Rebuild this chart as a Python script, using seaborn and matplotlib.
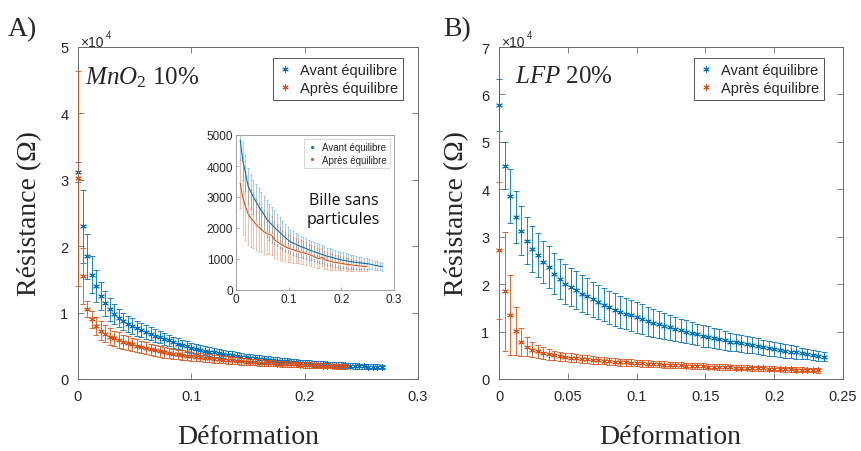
import matplotlib
matplotlib.use("Agg")
import matplotlib.pyplot as plt
from matplotlib.lines import Line2D
import seaborn as sns

# ---------------------------------------------------------------- data
# strain grid shared by the main panels
strain = [0.000, 0.004, 0.008, 0.012, 0.016, 0.020, 0.024, 0.028, 0.032, 0.036,
          0.040, 0.044, 0.048, 0.052, 0.056, 0.060, 0.064, 0.068, 0.072, 0.076,
          0.080, 0.084, 0.088, 0.092, 0.096, 0.100, 0.104, 0.108, 0.112, 0.116,
          0.120, 0.124, 0.128, 0.132, 0.136, 0.140, 0.144, 0.148, 0.152, 0.156,
          0.160, 0.164, 0.168, 0.172, 0.176, 0.180, 0.184, 0.188, 0.192, 0.196,
          0.200, 0.204, 0.208, 0.212, 0.216, 0.220, 0.224, 0.228, 0.232, 0.236,
          0.240, 0.244, 0.248, 0.252, 0.256, 0.260, 0.264, 0.268]

# A) MnO2 10 %  (resistance in 1e4 ohm)
mno2_avant = [3.12, 2.30, 1.85, 1.57, 1.40, 1.25, 1.14, 1.05, 0.98, 0.92,
              0.87, 0.83, 0.80, 0.765, 0.74, 0.71, 0.68, 0.655, 0.63, 0.60,
              0.58, 0.555, 0.53, 0.51, 0.49, 0.47, 0.455, 0.44, 0.425, 0.41,
              0.40, 0.39, 0.375, 0.365, 0.355, 0.345, 0.335, 0.325, 0.315, 0.31,
              0.30, 0.295, 0.29, 0.283, 0.276, 0.27, 0.264, 0.258, 0.252, 0.246,
              0.24, 0.236, 0.232, 0.228, 0.224, 0.22, 0.216, 0.212, 0.208, 0.204,
              0.20, 0.197, 0.194, 0.19, 0.188, 0.185, 0.183, 0.18]
mno2_avant_err = [0.15, 0.55, 0.34, 0.28, 0.24, 0.21, 0.19, 0.17, 0.15, 0.14,
                  0.13, 0.125, 0.12, 0.115, 0.11, 0.105, 0.10, 0.097, 0.094, 0.091,
                  0.088, 0.085, 0.082, 0.08, 0.078, 0.076, 0.074, 0.072, 0.07, 0.068,
                  0.066, 0.064, 0.063, 0.062, 0.061, 0.06, 0.059, 0.058, 0.057, 0.056,
                  0.055, 0.054, 0.053, 0.052, 0.051, 0.05, 0.049, 0.048, 0.047, 0.046,
                  0.045, 0.044, 0.044, 0.043, 0.043, 0.042, 0.042, 0.041, 0.041, 0.04,
                  0.04, 0.039, 0.039, 0.038, 0.038, 0.037, 0.037, 0.036]
mno2_apres = [3.02, 1.55, 1.05, 0.90, 0.80, 0.73, 0.68, 0.64, 0.61, 0.585,
              0.56, 0.54, 0.52, 0.50, 0.48, 0.46, 0.445, 0.43, 0.415, 0.40,
              0.39, 0.38, 0.37, 0.36, 0.35, 0.34, 0.333, 0.326, 0.319, 0.312,
              0.305, 0.298, 0.291, 0.285, 0.279, 0.273, 0.268, 0.263, 0.258, 0.253,
              0.248, 0.244, 0.24, 0.236, 0.232, 0.228, 0.225, 0.222, 0.219, 0.216,
              0.213, 0.21, 0.207, 0.204, 0.201, 0.198, 0.196, 0.194, 0.192, 0.19]
mno2_apres_err = [1.62, 0.42, 0.12, 0.13, 0.14, 0.14, 0.13, 0.13, 0.12, 0.12,
                  0.11, 0.105, 0.10, 0.097, 0.094, 0.09, 0.087, 0.084, 0.081, 0.078,
                  0.076, 0.074, 0.072, 0.07, 0.068, 0.066, 0.064, 0.062, 0.06, 0.058,
                  0.057, 0.056, 0.055, 0.054, 0.053, 0.052, 0.051, 0.05, 0.049, 0.048,
                  0.047, 0.046, 0.045, 0.044, 0.043, 0.042, 0.042, 0.041, 0.041, 0.04,
                  0.04, 0.039, 0.039, 0.038, 0.038, 0.037, 0.037, 0.036, 0.036, 0.035]

# B) LFP 20 %  (resistance in 1e4 ohm)
lfp_avant = [5.77, 4.50, 3.85, 3.41, 3.13, 2.92, 2.74, 2.61, 2.47, 2.36,
             2.22, 2.11, 2.01, 1.94, 1.87, 1.80, 1.74, 1.68, 1.63, 1.57,
             1.51, 1.46, 1.42, 1.38, 1.34, 1.30, 1.26, 1.22, 1.18, 1.15,
             1.12, 1.09, 1.06, 1.03, 1.00, 0.97, 0.94, 0.91, 0.89, 0.86,
             0.84, 0.815, 0.79, 0.77, 0.75, 0.73, 0.71, 0.69, 0.67, 0.65,
             0.63, 0.61, 0.59, 0.575, 0.56, 0.54, 0.525, 0.51, 0.49, 0.47]
lfp_avant_err = [0.55, 0.50, 0.57, 0.55, 0.52, 0.50, 0.48, 0.46, 0.45, 0.44,
                 0.43, 0.42, 0.42, 0.41, 0.40, 0.39, 0.38, 0.37, 0.36, 0.355,
                 0.35, 0.345, 0.34, 0.335, 0.33, 0.325, 0.315, 0.305, 0.295, 0.285,
                 0.275, 0.265, 0.255, 0.245, 0.24, 0.235, 0.23, 0.225, 0.22, 0.215,
                 0.21, 0.2, 0.19, 0.185, 0.18, 0.175, 0.17, 0.165, 0.16, 0.155,
                 0.15, 0.145, 0.14, 0.135, 0.13, 0.12, 0.11, 0.105, 0.1, 0.09]
lfp_apres = [2.71, 1.85, 1.35, 1.01, 0.78, 0.68, 0.62, 0.58, 0.545, 0.52,
             0.50, 0.48, 0.465, 0.45, 0.44, 0.425, 0.415, 0.405, 0.395, 0.385,
             0.375, 0.365, 0.357, 0.35, 0.343, 0.336, 0.33, 0.323, 0.317, 0.311,
             0.305, 0.299, 0.293, 0.288, 0.283, 0.278, 0.273, 0.268, 0.263, 0.258,
             0.254, 0.25, 0.246, 0.242, 0.238, 0.234, 0.23, 0.226, 0.222, 0.218,
             0.214, 0.21, 0.206, 0.202, 0.198, 0.194, 0.19, 0.186, 0.182]
lfp_apres_err = [1.45, 1.25, 0.85, 0.5, 0.3, 0.2, 0.16, 0.14, 0.12, 0.11,
                 0.1, 0.095, 0.09, 0.088, 0.086, 0.084, 0.082, 0.08, 0.078, 0.076,
                 0.075, 0.074, 0.073, 0.072, 0.071, 0.07, 0.069, 0.068, 0.067, 0.066,
                 0.065, 0.064, 0.063, 0.062, 0.061, 0.06, 0.06, 0.059, 0.058, 0.057,
                 0.056, 0.056, 0.055, 0.055, 0.054, 0.054, 0.053, 0.053, 0.052, 0.052,
                 0.051, 0.051, 0.05, 0.05, 0.05, 0.049, 0.049, 0.048, 0.048]

# inset: bead without particles (resistance in ohm)
strain_bille = [0.008, 0.013, 0.018, 0.023, 0.028, 0.033, 0.038, 0.043, 0.048, 0.053,
                0.058, 0.063, 0.068, 0.073, 0.078, 0.083, 0.088, 0.093, 0.098, 0.103,
                0.108, 0.113, 0.118, 0.123, 0.128, 0.133, 0.138, 0.143, 0.148, 0.153,
                0.158, 0.163, 0.168, 0.173, 0.178, 0.183, 0.188, 0.193, 0.198, 0.203,
                0.208, 0.213, 0.218, 0.223, 0.228, 0.233, 0.238, 0.243, 0.248, 0.253,
                0.258, 0.263, 0.268, 0.273, 0.278]
bille_avant = [4840, 4160, 3780, 3350, 3170, 3000, 2850, 2700, 2570, 2440,
               2300, 2200, 2110, 2020, 1940, 1860, 1780, 1700, 1630, 1560,
               1520, 1480, 1440, 1400, 1370, 1340, 1300, 1270, 1240, 1210,
               1180, 1150, 1120, 1090, 1070, 1050, 1020, 1000, 980, 960,
               945, 930, 915, 900, 890, 880, 870, 860, 850, 840,
               820, 800, 785, 770, 755]
bille_avant_err = [650, 620, 590, 570, 560, 560, 570, 580, 590, 600,
                   600, 590, 570, 550, 520, 490, 460, 430, 410, 390,
                   380, 370, 360, 350, 340, 330, 320, 310, 305, 300,
                   295, 290, 285, 280, 275, 270, 265, 260, 255, 250,
                   245, 240, 230, 220, 210, 200, 190, 180, 170, 160,
                   150, 145, 140, 135, 130]
bille_apres = [3450, 2970, 2700, 2450, 2320, 2220, 2120, 2030, 1950, 1880,
               1830, 1800, 1760, 1620, 1560, 1500, 1450, 1400, 1360, 1330,
               1300, 1270, 1250, 1220, 1200, 1180, 1150, 1120, 1080, 1040,
               1010, 1060, 980, 950, 930, 910, 890, 880, 865, 850,
               835, 820, 810, 800, 790, 780, 770, 762, 755]
bille_apres_err = [800, 1200, 1100, 1000, 930, 870, 820, 780, 740, 710,
                   680, 650, 620, 590, 560, 530, 500, 470, 450, 430,
                   415, 400, 390, 380, 370, 360, 350, 340, 330, 320,
                   310, 300, 290, 280, 270, 260, 250, 240, 230, 220,
                   210, 200, 190, 180, 170, 160, 150, 140, 130]

labels = ["Avant équilibre", "Après équilibre"]
ticks_a = [0, 0.1, 0.2, 0.3]
ticks_b = [0, 0.05, 0.1, 0.15, 0.2, 0.25]
ticks_bille_y = [0, 1000, 2000, 3000, 4000, 5000]

# ---------------------------------------------------------------- style
sns.set_style("ticks")
plt.rcParams["font.family"] = ["Liberation Sans", "DejaVu Sans"]
plt.rcParams["mathtext.fontset"] = "custom"
plt.rcParams["mathtext.it"] = "Liberation Serif:italic"
plt.rcParams["mathtext.rm"] = "Liberation Serif"

BLUE = "#0072BD"
ORANGE = "#D95319"
ASTERISK = (6, 2, 0)
SERIF = ["Liberation Serif", "DejaVu Serif"]
W, H = 861, 452

fig = plt.figure(figsize=(W / 100, H / 100), dpi=100)
fig.patch.set_facecolor("white")


def px_axes(left, top, right, bottom):
    return fig.add_axes([left / W, 1 - bottom / H, (right - left) / W, (bottom - top) / H])


ax_a = px_axes(78, 48, 418, 380)
ax_b = px_axes(499, 48, 843, 380)
ax_in = px_axes(236, 136, 394, 291)


def draw(ax, x, y, err, color, marker, size, lw, cap, alpha=1.0, z=2, clip=False):
    eb = ax.errorbar(x, y, yerr=err, fmt="none", ecolor=color, elinewidth=lw,
                     capsize=cap, capthick=lw, alpha=alpha, zorder=z)
    for art in eb.lines[1] + eb.lines[2]:
        art.set_clip_on(clip)
    sns.scatterplot(x=x, y=y, ax=ax, color=color, marker=marker, s=size,
                    linewidth=0.7, legend=False, zorder=z + 1, clip_on=clip)


def frame(ax, xlim, ylim, xticks, yticks, fs, edge, tlen, pad):
    ax.set_xlim(*xlim)
    ax.set_ylim(*ylim)
    ax.set_xticks(xticks)
    ax.set_xticklabels([f"{t:g}" for t in xticks])
    ax.set_yticks(yticks)
    ax.set_yticklabels([f"{t:g}" for t in yticks])
    ax.set_xlabel("")
    ax.set_ylabel("")
    ax.tick_params(direction="in", top=True, right=True, length=tlen, width=0.6,
                   color=edge, labelcolor="#262626", labelsize=fs, pad=pad)
    for s in ax.spines.values():
        s.set_visible(True)
        s.set_linewidth(0.7)
        s.set_color(edge)


def legend(ax, anchor, fs, marker, ms):
    handles = [Line2D([], [], ls="none", marker=marker, color=c, ms=ms, mew=0.7)
               for c in (BLUE, ORANGE)]
    leg = ax.legend(handles, labels, loc="upper right", bbox_to_anchor=anchor,
                    fontsize=fs, frameon=True, fancybox=False, borderaxespad=0,
                    handlelength=1.0, handletextpad=0.5, labelspacing=0.25,
                    borderpad=0.35)
    leg.get_frame().set_edgecolor("#262626")
    leg.get_frame().set_linewidth(0.7)
    return leg


# A) MnO2
draw(ax_a, strain[:len(mno2_avant)], mno2_avant, mno2_avant_err, BLUE, ASTERISK, 18, 0.6, 2.2, z=3)
draw(ax_a, strain[:len(mno2_apres)], mno2_apres, mno2_apres_err, ORANGE, ASTERISK, 18, 0.6, 2.2, z=5)
frame(ax_a, (0, 0.3), (0, 5), ticks_a, [0, 1, 2, 3, 4, 5], 10.5, "#6a6a6a", 4, 7)
legend(ax_a, (0.956, 0.967), 10.5, ASTERISK, 4.5)
ax_a.text(0.02, 0.912, r"$MnO_2$ 10%", transform=ax_a.transAxes, family=SERIF,
          fontsize=18, va="center", ha="left")

# B) LFP
draw(ax_b, strain[:len(lfp_avant)], lfp_avant, lfp_avant_err, BLUE, ASTERISK, 18, 0.6, 2.2, z=3)
draw(ax_b, strain[:len(lfp_apres)], lfp_apres, lfp_apres_err, ORANGE, ASTERISK, 18, 0.6, 2.2, z=5)
frame(ax_b, (0, 0.25), (0, 7), ticks_b, list(range(8)), 10.5, "#6a6a6a", 4, 7)
legend(ax_b, (0.945, 0.967), 10.5, ASTERISK, 4.5)
ax_b.text(0.047, 0.912, r"$LFP$ 20%", transform=ax_b.transAxes, family=SERIF,
          fontsize=18, va="center", ha="left")

# inset: bead without particles
draw(ax_in, strain_bille, bille_avant, bille_avant_err, BLUE, ".", 5, 0.6, 1.0,
     alpha=0.42, z=2, clip=True)
draw(ax_in, strain_bille[:len(bille_apres)], bille_apres, bille_apres_err, ORANGE, ".", 5,
     0.6, 1.0, alpha=0.42, z=4, clip=True)
sns.lineplot(x=strain_bille, y=bille_avant, ax=ax_in, color=BLUE, lw=0.8, zorder=6)
sns.lineplot(x=strain_bille[:len(bille_apres)], y=bille_apres, ax=ax_in, color=ORANGE,
             lw=0.8, zorder=6)
frame(ax_in, (0, 0.3), (0, 5000), ticks_a, ticks_bille_y, 8.5, "#a0a0a0", 2, 2)
ax_in.tick_params(top=False, right=False)
leg_in = legend(ax_in, (0.975, 0.975), 7, ".", 3)
leg_in.get_frame().set_edgecolor("#bbbbbb")
leg_in.get_frame().set_linewidth(0.5)
ax_in.text(0.68, 0.52, "Bille sans\nparticules", transform=ax_in.transAxes,
           family=["Open Sans", "DejaVu Sans"], fontsize=11.5, ha="center",
           va="center", linespacing=1.3, color="#111111")

# multiplier, axis titles and panel letters
for x0 in (80, 501):
    fig.text(x0 / W, 1 - 47 / H, "×10", fontsize=10, color="#262626", va="baseline")
    fig.text((x0 + 26) / W, 1 - 39 / H, "4", fontsize=7, color="#262626", va="baseline")

for cx in (248, 670):
    fig.text(cx / W, 1 - 438 / H, "Déformation", family=SERIF, fontsize=20,
             ha="center", va="center")
for cx in (30, 457):
    fig.text(cx / W, 1 - 214 / H, "Résistance (Ω)", family=SERIF, fontsize=20,
             ha="center", va="center", rotation=90)
fig.text(8 / W, 1 - 30 / H, "A)", family=SERIF, fontsize=20, ha="left", va="center")
fig.text(443 / W, 1 - 30 / H, "B)", family=SERIF, fontsize=20, ha="left", va="center")

fig.savefig("out.png", dpi=100, facecolor="white")
